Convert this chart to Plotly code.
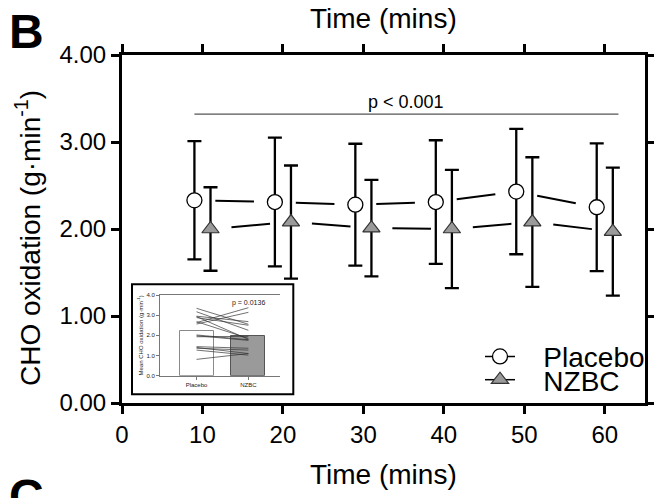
import plotly.graph_objects as go

# ---------------- data ----------------
time_points = [10, 20, 30, 40, 50, 60]
placebo_mean = [2.33, 2.31, 2.28, 2.31, 2.43, 2.25]
placebo_sd = [0.68, 0.74, 0.70, 0.71, 0.72, 0.735]
nzbc_mean = [2.00, 2.08, 2.01, 2.00, 2.08, 1.97]
nzbc_sd = [0.48, 0.65, 0.555, 0.68, 0.745, 0.735]
x_ticks = [0, 10, 20, 30, 40, 50, 60]
y_ticks = [0, 1, 2, 3, 4]

sig_x = [9, 61.7]
sig_y = 3.32
sig_text = "p < 0.001"

inset_groups = ["Placebo", "NZBC"]
inset_means = [2.21, 1.97]
inset_placebo = [3.34, 3.17, 2.95, 2.93, 2.88, 2.68, 2.63, 2.56, 2.02, 1.98, 1.93, 1.44, 1.40, 1.36, 1.27, 0.81]
inset_nzbc = [2.55, 2.25, 2.68, 1.80, 2.50, 1.85, 3.37, 3.14, 1.78, 1.75, 1.95, 1.36, 1.10, 1.27, 1.02, 1.10]
inset_ticks = [0, 1, 2, 3, 4]
inset_p = "p = 0.0136"

# ---------------- style ----------------
FONT = "Liberation Sans, Arial, sans-serif"
dodge = 1.0
gap = 2.6
NB = "\u00a0"


def gapped(xs, ys, g):
    sx, sy = [], []
    for i in range(len(xs) - 1):
        x0, x1, y0, y1 = xs[i], xs[i + 1], ys[i], ys[i + 1]
        f = g / (x1 - x0)
        sx += [x0 + g, x1 - g, None]
        sy += [y0 + (y1 - y0) * f, y1 - (y1 - y0) * f, None]
    return sx, sy


px_pl = [t - dodge for t in time_points]
px_nz = [t + dodge for t in time_points]

circle = dict(symbol="circle", size=15, color="white", line=dict(color="black", width=1.3))
tri = dict(symbol="triangle-up", size=15, color="#9a9a9a", line=dict(color="#333333", width=1.2))

fig = go.Figure()

for xs, ys, sds, mk, name, lg in [
    (px_pl, placebo_mean, placebo_sd, circle, "Placebo", "legend"),
    (px_nz, nzbc_mean, nzbc_sd, tri, "NZBC", "legend2"),
]:
    sx, sy = gapped(xs, ys, gap)
    fig.add_trace(go.Scatter(x=sx, y=sy, mode="lines", line=dict(color="black", width=2),
                             showlegend=False, hoverinfo="skip"))
    fig.add_trace(go.Scatter(x=xs, y=ys, mode="markers", marker=mk, showlegend=False,
                             error_y=dict(type="data", array=sds, visible=True, color="black",
                                          thickness=2.3, width=7)))
    fig.add_trace(go.Scatter(x=[None], y=[None], mode="lines+markers", name=NB * 3 + name, legend=lg,
                             marker=mk, line=dict(color="black", width=1.5)))

# inset: paired individual lines + bars
fig.add_trace(go.Bar(x=[0, 1], y=inset_means, width=0.656, xaxis="x2", yaxis="y2",
                     marker=dict(color=["white", "#9a9a9a"], line=dict(color=["#8a8a8a", "#555555"], width=1)),
                     showlegend=False))
lx, ly = [], []
for a, b in zip(inset_placebo, inset_nzbc):
    lx += [0, 1, None]
    ly += [a, b, None]
fig.add_trace(go.Scatter(x=lx, y=ly, mode="lines", xaxis="x2", yaxis="y2",
                         line=dict(color="#333333", width=0.7), showlegend=False, hoverinfo="skip"))

axis_common = dict(showgrid=False, zeroline=False, showline=True, linecolor="black", linewidth=3,
                   ticks="outside", ticklen=8, tickwidth=2.5, tickcolor="black", mirror="allticks",
                   tickfont=dict(family=FONT, size=24, color="black"))

L, R, T, B = 122, 9, 55, 95
W, H = 654, 498
pw, ph = W - L - R, H - T - B


def px(X):
    return (X - L) / pw


def py(Y):
    return (H - B - Y) / ph


fig.update_layout(
    width=W, height=H, margin=dict(l=L, r=R, t=T, b=B, autoexpand=False),
    paper_bgcolor="white", plot_bgcolor="white",
    font=dict(family=FONT, color="black"),
    xaxis=dict(range=[0, 65], tickvals=x_ticks, **axis_common),
    yaxis=dict(range=[0, 4], tickvals=y_ticks, tickformat=".2f", **axis_common),
    xaxis2=dict(domain=[px(160), px(280)], anchor="y2", range=[-0.705, 1.61],
                tickvals=[0, 1], ticktext=inset_groups, showgrid=False, zeroline=False,
                showline=True, linecolor="#777777", linewidth=1, mirror=True,
                ticks="outside", ticklen=3, tickwidth=1, tickcolor="#777777",
                tickfont=dict(family=FONT, size=6, color="#222222")),
    yaxis2=dict(domain=[py(375.7), py(295)], anchor="x2", range=[0, 4], tickvals=inset_ticks,
                tickformat=".1f", showgrid=False, zeroline=False, showline=True,
                linecolor="#777777", linewidth=1, ticks="outside", ticklen=3, tickwidth=1,
                tickcolor="#777777", tickfont=dict(family=FONT, size=6, color="#222222"),
                title=dict(text="Mean CHO oxidation (g·min<sup>-1</sup>)", standoff=2,
                           font=dict(family=FONT, size=6, color="#222222"))),
    legend=dict(x=px(480), y=py(356.7), xanchor="left", yanchor="middle",
                bgcolor="rgba(0,0,0,0)", font=dict(family=FONT, size=28, color="black")),
    legend2=dict(x=px(480), y=py(380), xanchor="left", yanchor="middle",
                 bgcolor="rgba(0,0,0,0)", font=dict(family=FONT, size=28, color="black")),
    bargap=0,
)

# inset frame
fig.add_shape(type="rect", xref="paper", yref="paper", x0=px(132), x1=px(293.3), y0=py(394.3), y1=py(284.3),
              line=dict(color="black", width=2), fillcolor="white", layer="below")
# significance bar
fig.add_shape(type="line", xref="x", yref="y", x0=sig_x[0], x1=sig_x[1], y0=sig_y, y1=sig_y,
              line=dict(color="#555555", width=1.3))
fig.add_annotation(x=(sig_x[0] + sig_x[1]) / 2, y=sig_y, xref="x", yref="y", text=sig_text,
                   showarrow=False, yanchor="bottom", yshift=0, font=dict(family=FONT, size=18, color="black"))
fig.add_annotation(x=1, y=4, xref="x2", yref="y2", text=inset_p, showarrow=False, yanchor="top",
                   yshift=-2, font=dict(family=FONT, size=7, color="#222222"))

# labels
fig.add_annotation(x=px(28), y=py(238), xref="paper", yref="paper", textangle=-90,
                   text="CHO oxidation (g·min<sup>-1</sup>)", showarrow=False,
                   xanchor="center", yanchor="middle", font=dict(family=FONT, size=28, color="black"))
fig.add_annotation(x=0.5, y=py(18), xref="paper", yref="paper", text="Time (mins)", showarrow=False,
                   xanchor="center", yanchor="middle", font=dict(family=FONT, size=28, color="black"))
fig.add_annotation(x=0.5, y=py(474), xref="paper", yref="paper", text="Time (mins)", showarrow=False,
                   xanchor="center", yanchor="middle", font=dict(family=FONT, size=28, color="black"))
fig.add_annotation(x=px(26), y=py(31), xref="paper", yref="paper", text="<b>B</b>", showarrow=False,
                   xanchor="center", yanchor="middle", font=dict(family=FONT, size=48, color="black"))
fig.add_annotation(x=px(26), y=py(496), xref="paper", yref="paper", text="<b>C</b>", showarrow=False,
                   xanchor="center", yanchor="middle", font=dict(family=FONT, size=48, color="black"))

fig.write_html("out.html", config={"displayModeBar": False},
               post_script="document.body.style.margin='0px';")
